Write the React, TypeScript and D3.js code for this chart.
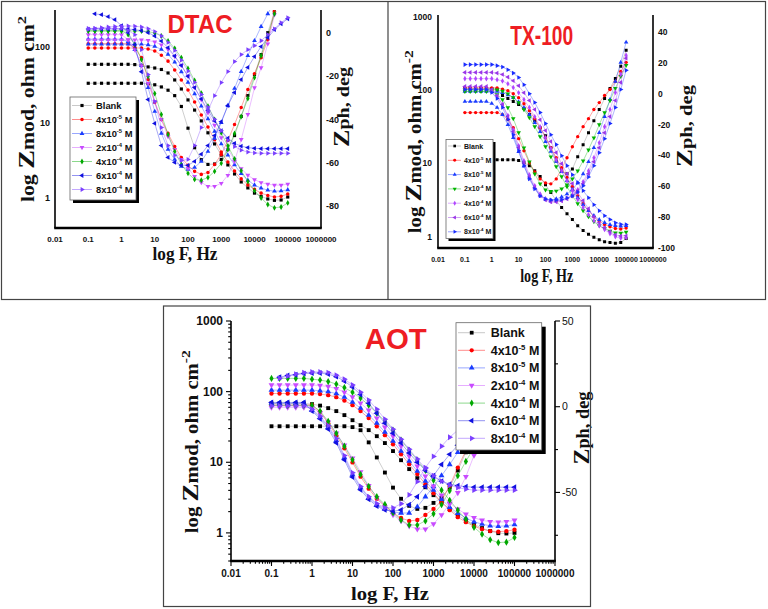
import React from 'react';
import * as d3 from 'd3';

// ---------------- data ----------------
const FREQ = [0.1, 0.158, 0.251, 0.398, 0.631, 1, 1.58, 2.51, 3.98, 6.31, 10, 15.8, 25.1, 39.8, 63.1, 100, 158, 251, 398, 631, 1000, 1580, 2510, 3980, 6310, 10000, 15800, 25100, 39800, 63100, 100000];

const X_TICKS = [0.01, 0.1, 1, 10, 100, 1000, 10000, 100000, 1000000];
const X_TICK_LABELS = ['0.01', '0.1', '1', '10', '100', '1000', '10000', '100000', '1000000'];

const LEGEND_BASE = ['Blank', '4x10', '8x10', '2x10', '4x10', '6x10', '8x10'];
const LEGEND_EXP = ['', '-5', '-5', '-4', '-4', '-4', '-4'];
const LEGEND_UNIT = ['', ' M', ' M', ' M', ' M', ' M', ' M'];

const TITLES = ['DTAC', 'TX-100', 'AOT'];
const X_LABEL = 'log F, Hz';

// DTAC: |Z| (ohm cm2) and phase (deg); rows = Blank, 4e-5, 8e-5, 2e-4, 4e-4, 6e-4, 8e-4
const dtacZmod = [
  [59, 59, 59, 59, 59, 59, 59, 58.5, 57, 54.5, 52.7, 50.4, 45.3, 36.6, 27.8, 19.9, 14.6, 10.5, 7.3, 5.2, 3.7, 2.74, 2.08, 1.63, 1.36, 1.16, 1.05, 0.97, 0.93, 0.94, 1.03],
  [97, 97, 97, 97, 97, 97, 97, 97, 97, 94, 88.5, 78, 65, 49.6, 36.6, 26.9, 18.7, 12.6, 8.7, 5.9, 4.07, 3.0, 2.28, 1.79, 1.49, 1.30, 1.16, 1.08, 1.03, 1.05, 1.13],
  [109, 109, 109, 109, 109, 109, 109, 109, 109, 107, 102, 93, 80, 63, 47, 34, 24, 16.5, 11.2, 7.6, 5.2, 3.7, 2.75, 2.1, 1.72, 1.48, 1.35, 1.27, 1.23, 1.24, 1.28],
  [124, 124, 124, 124, 124, 124, 124, 124, 124, 122, 117, 107, 93, 75, 57, 41, 29, 20, 13.5, 9.2, 6.3, 4.4, 3.2, 2.45, 2.0, 1.75, 1.6, 1.52, 1.48, 1.48, 1.52],
  [163, 163, 163, 163, 163, 163, 163, 163, 163, 160, 153, 140, 120, 96, 72, 52, 36, 24.5, 16.5, 11, 7.3, 4.9, 3.3, 2.3, 1.65, 1.25, 1.0, 0.82, 0.74, 0.76, 0.86],
  [173, 173, 173, 173, 173, 173, 173, 170, 165, 155, 140, 120, 98, 76, 57, 41, 29, 20.5, 14.5, 10.5, 7.8, 6.2, 5.3, 4.85, 4.65, 4.55, 4.5, 4.5, 4.5, 4.5, 4.5],
  [172, 176, 180, 184, 187, 189, 190, 189, 184, 175, 160, 140, 115, 90, 67, 48, 34, 23.5, 16, 11, 7.8, 5.8, 4.8, 4.3, 4.05, 3.95, 3.9, 3.9, 3.9, 3.9, 3.9],
];
const dtacPhase = [
  [-23.3, -23.3, -23.3, -23.3, -23.3, -23.3, -23.3, -23.3, -23.3, -23.5, -24, -25, -26.5, -29, -34, -44, -53, -58.5, -60.7, -60.5, -58.4, -53.8, -47.4, -38.6, -29, -19.3, -10.1, 0, 9.7, 20, 30],
  [-5.1, -5.1, -5.1, -5.1, -5.1, -5.1, -5.1, -6.9, -11.5, -21.6, -32.2, -40, -46.4, -52.4, -57.5, -61.1, -63.9, -65.3, -64.4, -60.7, -56.1, -49.7, -42.3, -34.5, -26.2, -18.9, -11.5, -3.2, 9.7, 22, 33.6],
  [-3, -3, -3, -3, -3, -3, -4.1, -7.8, -15.2, -25.3, -36.3, -46.4, -53.8, -58.4, -61.6, -63, -62.1, -59.3, -54.7, -48.7, -41.4, -33.6, -25.7, -17.9, -10.6, -3.7, 2.8, 8.7, 14.3, 19.8, 24.4],
  [-0.9, -0.9, -0.9, -0.9, -0.9, -0.9, -3.2, -7.8, -15.2, -23.4, -31.7, -40, -47.8, -53.8, -58.4, -62.5, -66.2, -69, -70.8, -70.8, -69.4, -65.7, -59.3, -49.2, -37.7, -25.3, -16.1, -5.1, 8.3, 19.8, 31.3],
  [0.9, 0.9, 0.9, 0.9, 0.9, 0.9, -0.9, -5.5, -12.4, -20.2, -28, -37.7, -46.9, -54.7, -60.7, -64.8, -67.6, -68, -66.7, -63.9, -60.2, -53.8, -46.4, -38.6, -30.3, -20.7, -10.6, -1.4, 8.7, 18.9, 29],
  [null, 8.7, 8.3, 7.4, 6, 3.2, 0, -5.5, -18, -30.8, -41.8, -52, -57.5, -59.8, -61.1, -61.1, -59.3, -56, -52, -47.4, -41, -33.6, -27.6, -21.6, -16, -11, -6.4, -2.3, 1.4, 4.1, 6.4],
  [2, 2, 2, 2, 2, 2, 1, -0.9, -7.8, -19.3, -31.7, -43.7, -52, -56.5, -58.9, -58.4, -52, -43.7, -35.9, -29, -23, -17.9, -13.3, -10.1, -7.8, -6, -3.7, -0.9, 1.8, 4.6, 6.9],
];

// TX-100
const txZmod = [
  [11.2, 11.2, 11.2, 11.2, 11.2, 11.2, 11.2, 11.2, 11.2, 11.2, 10.9, 10.2, 9.3, 7.9, 6.6, 5.1, 4.0, 3.1, 2.49, 2.06, 1.71, 1.41, 1.21, 1.08, 0.98, 0.91, 0.855, 0.83, 0.815, 0.83, 0.94],
  [107, 107, 107, 107, 107, 107, 107, 103, 98, 89, 78.6, 65, 52.3, 40.7, 30.6, 22.3, 16.4, 11.9, 8.7, 6.4, 4.8, 3.6, 2.82, 2.26, 1.87, 1.63, 1.46, 1.36, 1.29, 1.27, 1.31],
  [96, 96, 96, 96, 96, 96, 96, 92, 86, 78.6, 69, 57.6, 46, 35.9, 27, 19.8, 14.5, 10.6, 7.7, 5.8, 4.4, 3.4, 2.73, 2.26, 1.93, 1.71, 1.55, 1.46, 1.41, 1.39, 1.41],
  [101, 101, 101, 101, 101, 101, 101, 96.5, 89, 78.6, 67.4, 54.1, 42, 31.6, 23.1, 16.9, 12.3, 9.0, 6.6, 4.8, 3.6, 2.82, 2.26, 1.87, 1.6, 1.41, 1.29, 1.19, 1.13, 1.12, 1.15],
  [143, 143, 143, 143, 143, 143, 138, 133, 122, 108, 92, 74, 57.6, 43.3, 31.6, 22.3, 15.9, 11.2, 7.96, 5.8, 4.24, 3.2, 2.49, 1.99, 1.65, 1.41, 1.25, 1.1, 1.0, 0.955, 0.97],
  [174, 174, 174, 174, 174, 174, 170, 163, 150, 134, 114, 92, 72, 54.1, 39.4, 28.0, 19.8, 14.0, 9.9, 7.2, 5.3, 4.0, 3.1, 2.41, 1.87, 1.55, 1.33, 1.17, 1.06, 1.02, 1.03],
  [222, 222, 222, 222, 222, 222, 215, 206, 189, 170, 148, 118, 89, 67.4, 49.3, 34.8, 24.6, 18.0, 12.7, 9.3, 7.0, 5.45, 4.24, 3.4, 2.73, 2.26, 1.93, 1.71, 1.55, 1.48, 1.46],
];
const txPhase = [
  [3.5, 3.5, 3.5, 3.5, 3.5, 3.5, 2.8, -1.1, -3.1, -5, -7, -9.6, -13.5, -17.4, -22, -27.2, -35, -43.5, -50, -51.9, -48.7, -40.8, -33, -25.2, -17.4, -10.2, -3.1, 3.5, 10, 17.8, 28.2],
  [-12.2, -12.2, -12.2, -12.2, -12.2, -12.2, -12.2, -13.5, -16.7, -22, -29.1, -36.9, -44.8, -50.6, -55.2, -57.8, -58.4, -55.2, -48.7, -41.5, -34.3, -27.8, -21.3, -16.1, -10.2, -5.7, -1.1, 2.8, 8, 14.5, 20.4],
  [-5, -5, -5, -5, -5, -6.3, -8.9, -13.5, -20, -28.5, -37.6, -46.7, -54.5, -61, -65.6, -68.2, -68.9, -68.2, -66.9, -65, -62.3, -57.8, -51.9, -44.1, -35, -25.2, -14.8, -3.7, 8, 20.4, 33.4],
  [1.5, 1.5, 1.5, 1.5, 1.5, 1.5, -0.5, -3.7, -8.9, -16.1, -25.2, -35, -44.1, -51.9, -58.4, -62.3, -63.3, -63, -61.7, -59.1, -55.2, -50, -43.5, -36.3, -28.5, -20, -12.2, -4.4, 3.5, 11.3, 18.4],
  [3.1, 3.1, 3.1, 3.1, 3.1, 1.5, -1.8, -7, -14.1, -23.3, -33.7, -43.5, -52.6, -59.7, -65, -68.2, -69.5, -69.5, -68.9, -67.6, -65.6, -62.3, -57.1, -50, -41.5, -31.7, -21.3, -10.2, 0.8, 12.6, 25],
  [4.8, 4.8, 4.8, 4.8, 4.8, 2.8, -1.1, -7, -14.8, -24.6, -35, -44.8, -53.9, -61, -66.3, -68.9, -70.2, -70.2, -69.5, -68.2, -66.3, -63, -58.4, -51.9, -44.1, -35, -25.2, -14.8, -4.4, 7.4, 23],
  [2.8, 2.8, 2.8, 2.8, 2.8, 0.8, -3.1, -8.9, -16.7, -26.5, -36.9, -46.7, -55.2, -61.7, -66.3, -68.2, -68.9, -68.9, -68.6, -67.6, -66.3, -63.7, -59.7, -53.9, -46.7, -38.2, -29.1, -19.3, -8.9, 2.8, 15.2],
];

// AOT
const aotZmod = [
  [68, 68, 68, 68, 68, 66.5, 63.4, 58.4, 53, 46.5, 39.4, 33.5, 28.5, 23.4, 18.7, 14.4, 10.7, 8.0, 5.96, 4.43, 3.42, 2.72, 2.17, 1.78, 1.51, 1.31, 1.17, 1.06, 0.99, 0.98, 1.0],
  [94, 94, 94, 94, 94, 94, 92.2, 89.2, 83.6, 74.6, 64.4, 53, 42.2, 32.4, 24.2, 18.0, 13.0, 9.4, 6.8, 4.9, 3.65, 2.72, 2.1, 1.67, 1.42, 1.24, 1.13, 1.06, 1.04, 1.06, 1.11],
  [105, 105, 105, 105, 105, 105, 103, 100, 93.7, 83.6, 71, 58.4, 46.5, 35.8, 26.7, 19.9, 14.4, 10.4, 7.5, 5.4, 4.03, 3.0, 2.31, 1.9, 1.62, 1.44, 1.33, 1.26, 1.24, 1.26, 1.31],
  [124, 124, 124, 124, 124, 124, 122, 118, 110, 98, 84, 68.7, 54.7, 42.2, 31.4, 23.4, 16.9, 12.2, 8.8, 6.36, 4.59, 3.42, 2.64, 2.17, 1.84, 1.64, 1.51, 1.44, 1.42, 1.44, 1.51],
  [154, 154, 154, 154, 154, 150, 146, 139, 128, 114, 98, 81, 64.4, 49.6, 38.2, 28.5, 20.6, 14.8, 10.7, 7.7, 5.58, 4.03, 2.9, 2.1, 1.56, 1.2, 0.96, 0.8, 0.73, 0.74, 0.86],
  [null, 160, 169, 174, 180, 183, 183, 177, 163, 141, 116, 90.8, 68.7, 49.6, 35.8, 25.8, 18.7, 13.5, 10.0, 7.7, 6.25, 5.4, 4.9, 4.66, 4.51, 4.44, 4.44, 4.44, 4.44, 4.44, 4.44],
  [null, 155, 166, 177, 186, 190, 190, 186, 171, 150, 124, 98.4, 75.9, 56.5, 40.7, 29.4, 21.2, 15.3, 11.1, 8.2, 6.46, 5.4, 4.74, 4.37, 4.16, 4.03, 4.03, 4.03, 4.03, 4.03, 4.03],
];
const aotPhase = [
  [-11.4, -11.4, -11.4, -11.4, -11.4, -11.4, -11.4, -11.4, -11.4, -11.4, -11.9, -13.7, -20.8, -29.6, -38.4, -47.2, -53.7, -57.8, -59.6, -59, -56.1, -53.1, -47.2, -37.2, -26.6, -16.6, -4.9, 6.9, 18.6, 30.4, 42.2],
  [1, 1, 1, 1, 1, 1, -3.1, -9.6, -16.6, -24.3, -32.5, -40.8, -47.8, -53.7, -57.8, -61.9, -64.9, -66.6, -66.1, -63.1, -59.6, -54.9, -46.1, -35.5, -25.5, -16.1, -6.6, 2.8, 12.2, 21.6, 31],
  [2, 2, 2, 2, 2, -1.9, -6.1, -11.9, -19.6, -29.6, -39.6, -47.2, -53.1, -57.2, -59.6, -61.4, -62, -62, -58.4, -52.5, -46.6, -40.2, -33.7, -26.6, -19.6, -12.5, -5.5, 1.6, 8.6, 15.7, 22.8],
  [-0.4, -0.4, -0.4, -0.4, -0.4, -0.4, -3.5, -9, -15.5, -22.5, -30, -38, -46.1, -53.1, -58.4, -63.1, -66.6, -69.6, -71.4, -71.4, -68.4, -63.1, -56.6, -50.2, -40.8, -28.4, -16.1, -3.1, 8.6, 20.4, 32.2],
  [0.8, 0.8, 0.8, 0.8, 0.8, 0.8, -2.5, -8.5, -15.5, -23, -31, -39.5, -46.5, -52.5, -57, -61.9, -66.1, -69, -69, -66.6, -62.5, -57.2, -49, -40.2, -31.9, -23.7, -14.3, -4.9, 4.5, 13.9, 23.4],
  [2.5, 2.5, 2.5, 2.5, 2.5, -2.5, -7, -13, -21, -31, -41, -48.5, -54, -58, -60.2, -61, -60.2, -57.2, -52.5, -46.6, -40.2, -33.7, -27.8, -22.5, -17.8, -13.7, -9.6, -5.5, -1.4, 3.4, 8.1],
  [0.5, 0.5, 0.5, 0.5, 0.5, -1.5, -5.5, -11, -18.5, -28.5, -38.5, -46.5, -52.5, -56.5, -59, -59, -56.6, -51.4, -43.7, -35.5, -29, -23.1, -17.8, -13.7, -10.2, -7.2, -4.3, -1.4, 1.6, 5.1, 8.6],
];

const DTAC_COLORS = ['#000000', '#ff0000', '#1a3cff', '#c84bff', '#00a800', '#1010e0', '#7b3fff'];
const TX_COLORS = ['#000000', '#ff0000', '#1a3cff', '#00b400', '#b146ff', '#9a36e8', '#1a2cff'];
const AOT_COLORS = ['#000000', '#ff0000', '#1a3cff', '#c84bff', '#00a800', '#1010e0', '#7b3fff'];

// ---------------- styling / layout ----------------
const SANS = "'Liberation Sans', Arial, Helvetica, sans-serif";
const SERIF = "'Liberation Serif', 'Times New Roman', serif";
const SYM_TYPES = [d3.symbolSquare, d3.symbolCircle, d3.symbolTriangle, d3.symbolTriangle, d3.symbolDiamond, d3.symbolTriangle, d3.symbolTriangle];
const SYM_ROT = [0, 0, 0, 180, 0, -90, 90];
const markerPath = (i: number, size: number) => d3.symbol().type(SYM_TYPES[i]).size(size)() || '';

const PANELS = [
  {
    key: 'dtac', title: TITLES[0], x0: 55, x1: 321, yTop: 11, yBot: 228, axisTop: 10,
    zDomain: [0.4, 300], pDomain: [-90, 10], zTicks: [1, 10, 100], pTicks: [0, -20, -40, -60, -80],
    colors: DTAC_COLORS, zmod: dtacZmod, phase: dtacPhase, ms: 10, ticks: false, pMinor: [] as number[],
    xTick: { y: 242, fs: 8 }, lTick: { x: 50, fs: 9 }, rTick: { x: 326, fs: 9, w: 'bold' },
    titleCfg: { x: 200, y: 33, fs: 25, len: 65 },
    xlab: { x: 185, y: 260, fs: 18.5, len: 65 },
    ylab: { x: 34, y: 109, fs: 18, len: 186, sup: '2' },
    rlab: { x: 349, y: 107, fs: 17, len: 80 },
    legend: { x: 70, y: 97, w: 66, h: 103, sh: 3, r0: 105.5, step: 14, lx0: 72, lx1: 92, mx: 82, tx: 96, fs: 9.4, ms: 10 },
  },
  {
    key: 'tx', title: TITLES[1], x0: 438, x1: 653, yTop: 16.7, yBot: 248, axisTop: 15,
    zDomain: [0.7, 1000], pDomain: [-100, 50], zTicks: [1, 10, 100, 1000], pTicks: [40, 20, 0, -20, -40, -60, -80, -100],
    colors: TX_COLORS, zmod: txZmod, phase: txPhase, ms: 9, ticks: false, pMinor: [] as number[],
    xTick: { y: 262, fs: 7 }, lTick: { x: 432, fs: 8.5 }, rTick: { x: 658, fs: 8.5, w: 'bold' },
    titleCfg: { x: 541.7, y: 45, fs: 28, len: 63 },
    xlab: { x: 546.7, y: 281.7, fs: 18, len: 53 },
    ylab: { x: 421, y: 141.7, fs: 18, len: 183, sup: '-2' },
    rlab: { x: 692, y: 126, fs: 17, len: 82 },
    legend: { x: 446, y: 139.5, w: 47, h: 99, sh: 2.5, r0: 146, step: 14.3, lx0: 448, lx1: 461, mx: 454.7, tx: 464, fs: 7, ms: 7 },
  },
  {
    key: 'aot', title: TITLES[2], x0: 231, x1: 555, yTop: 321, yBot: 561, axisTop: 321,
    zDomain: [0.4, 1000], pDomain: [-90, 50], zTicks: [1, 10, 100, 1000], pTicks: [50, 0, -50],
    colors: AOT_COLORS, zmod: aotZmod, phase: aotPhase, ms: 15, ticks: true, pMinor: [25, -25, -75],
    xTick: { y: 577, fs: 10 }, lTick: { x: 223, fs: 12 }, rTick: { x: 562, fs: 10.5, w: 'normal' },
    titleCfg: { x: 395.7, y: 349, fs: 29, len: 62 },
    xlab: { x: 390, y: 600, fs: 19, len: 78 },
    ylab: { x: 198, y: 441.7, fs: 18, len: 183, sup: '-2' },
    rlab: { x: 589, y: 428, fs: 18, len: 73 },
    legend: { x: 456, y: 322.7, w: 85.7, h: 127.3, sh: 4, r0: 332.7, step: 17.6, lx0: 458, lx1: 485, mx: 471.7, tx: 490.7, fs: 12.5, ms: 14 },
  },
];

function Legend({ L, colors }: any) {
  return (
    <g>
      <rect x={L.x + L.sh} y={L.y + L.sh} width={L.w} height={L.h} fill="#000" />
      <rect x={L.x} y={L.y} width={L.w} height={L.h} fill="#fff" stroke="#666" strokeWidth={0.8} />
      {LEGEND_BASE.map((b, i) => {
        const y = L.r0 + i * L.step;
        return (
          <g key={i}>
            <line x1={L.lx0} x2={L.lx1} y1={y} y2={y} stroke={i === 0 ? '#888' : colors[i]} strokeOpacity={0.45} strokeWidth={1} />
            <path d={markerPath(i, L.ms)} transform={`translate(${L.mx},${y}) rotate(${SYM_ROT[i]})`} fill={colors[i]} />
            <text x={L.tx} y={y + L.fs * 0.36} fontSize={L.fs} fontWeight="bold" fill="#111" fontFamily={SANS}>
              {b}
              {LEGEND_EXP[i] ? <tspan dy={-L.fs * 0.42} fontSize={L.fs * 0.62}>{LEGEND_EXP[i]}</tspan> : null}
              {LEGEND_UNIT[i] ? <tspan dy={LEGEND_EXP[i] ? L.fs * 0.42 : 0}>{LEGEND_UNIT[i]}</tspan> : null}
            </text>
          </g>
        );
      })}
    </g>
  );
}

function Panel({ c }: any) {
  const x = d3.scaleLog().domain([0.01, 1e6]).range([c.x0, c.x1]);
  const yz = d3.scaleLog().domain(c.zDomain).range([c.yBot, c.yTop]);
  const yp = d3.scaleLinear().domain(c.pDomain).range([c.yBot, c.yTop]);
  const clipId = 'clip-' + c.key;
  const lineFor = (sc: any) =>
    d3.line<any>().defined((v: any) => v != null).x((_v: any, i: number) => x(FREQ[i])).y((v: any) => sc(v));
  const lz = lineFor(yz);
  const lp = lineFor(yp);

  const drawSeries = (vals: any[], sc: any, ln: any, s: number, tag: string) => (
    <g key={tag + s}>
      <path d={ln(vals) || ''} fill="none" stroke={s === 0 ? '#777' : c.colors[s]} strokeOpacity={0.4} strokeWidth={0.9} />
      {vals.map((v: any, i: number) =>
        v == null ? null : (
          <path key={i} d={markerPath(s, c.ms)} transform={`translate(${x(FREQ[i]).toFixed(2)},${sc(v).toFixed(2)}) rotate(${SYM_ROT[s]})`} fill={c.colors[s]} />
        )
      )}
    </g>
  );

  const isMajor = (t: number) => Math.abs(Math.log10(t) - Math.round(Math.log10(t))) < 1e-6;

  return (
    <g>
      <defs>
        <clipPath id={clipId}>
          <rect x={c.x0} y={c.yTop - 1} width={c.x1 - c.x0} height={c.yBot - c.yTop + 1} />
        </clipPath>
      </defs>
      <g clipPath={`url(#${clipId})`}>
        {c.zmod.map((_z: any, s: number) => (
          <g key={s}>
            {drawSeries(c.zmod[s], yz, lz, s, 'z')}
            {drawSeries(c.phase[s], yp, lp, s, 'p')}
          </g>
        ))}
      </g>

      {/* axis frame */}
      <line x1={c.x0} x2={c.x0} y1={c.axisTop} y2={c.yBot} stroke="#000" strokeWidth={1.6} />
      <line x1={c.x1} x2={c.x1} y1={c.axisTop} y2={c.yBot} stroke="#000" strokeWidth={1.6} />
      <line x1={c.x0 - 0.8} x2={c.x1 + 0.8} y1={c.yBot} y2={c.yBot} stroke="#000" strokeWidth={2.6} />

      {c.ticks ? (
        <g stroke="#000" strokeWidth={1.1}>
          {x.ticks().map((t: number, i: number) => (
            <line key={'xt' + i} x1={x(t)} x2={x(t)} y1={c.yBot} y2={c.yBot + (isMajor(t) ? 5 : 2.8)} />
          ))}
          {yz.ticks().map((t: number, i: number) => (
            <line key={'yt' + i} x1={c.x0} x2={c.x0 - (isMajor(t) ? 5 : 2.8)} y1={yz(t)} y2={yz(t)} />
          ))}
          {c.pTicks.map((t: number, i: number) => (
            <line key={'pt' + i} x1={c.x1} x2={c.x1 + 5} y1={yp(t)} y2={yp(t)} />
          ))}
          {c.pMinor.map((t: number, i: number) => (
            <line key={'pm' + i} x1={c.x1} x2={c.x1 + 3} y1={yp(t)} y2={yp(t)} />
          ))}
        </g>
      ) : null}

      {/* tick labels */}
      <g fontFamily={SANS} fontWeight="bold" fill="#111">
        {X_TICKS.map((t, i) => (
          <text key={'xl' + i} x={x(t)} y={c.xTick.y} fontSize={c.xTick.fs} textAnchor="middle">{X_TICK_LABELS[i]}</text>
        ))}
        {c.zTicks.map((t: number, i: number) => (
          <text key={'zl' + i} x={c.lTick.x} y={yz(t) + c.lTick.fs * 0.35} fontSize={c.lTick.fs} textAnchor="end">{String(t)}</text>
        ))}
        {c.pTicks.map((t: number, i: number) => (
          <text key={'pl' + i} x={c.rTick.x} y={yp(t) + c.rTick.fs * 0.35} fontSize={c.rTick.fs} fontWeight={c.rTick.w} textAnchor="start">{String(t)}</text>
        ))}
      </g>

      {/* title */}
      <text x={c.titleCfg.x} y={c.titleCfg.y} textAnchor="middle" fill="#ee1d23" fontFamily={SANS} fontWeight="bold"
        fontSize={c.titleCfg.fs} textLength={c.titleCfg.len} lengthAdjust="spacingAndGlyphs">{c.title}</text>

      {/* axis titles */}
      <text x={c.xlab.x} y={c.xlab.y} textAnchor="middle" fontFamily={SERIF} fontWeight="bold" fontSize={c.xlab.fs}
        textLength={c.xlab.len} lengthAdjust="spacingAndGlyphs" fill="#111">{X_LABEL}</text>
      <text transform={`translate(${c.ylab.x},${c.ylab.y}) rotate(-90)`} textAnchor="middle" fontFamily={SERIF} fontWeight="bold"
        fontSize={c.ylab.fs} textLength={c.ylab.len} lengthAdjust="spacingAndGlyphs" fill="#111">
        {'log '}<tspan fontSize={c.ylab.fs * 1.3}>Z</tspan>{'mod, ohm cm'}<tspan dy={-c.ylab.fs * 0.45} fontSize={c.ylab.fs * 0.75}>{c.ylab.sup}</tspan>
      </text>
      <text transform={`translate(${c.rlab.x},${c.rlab.y}) rotate(-90)`} textAnchor="middle" fontFamily={SERIF} fontWeight="bold"
        fontSize={c.rlab.fs} textLength={c.rlab.len} lengthAdjust="spacingAndGlyphs" fill="#111">
        <tspan fontSize={c.rlab.fs * 1.3}>Z</tspan>{'ph, deg'}
      </text>

      <Legend L={c.legend} colors={c.colors} />
    </g>
  );
}

export default function App() {
  return (
    <svg width={768} height={609} viewBox="0 0 768 609" style={{ position: 'absolute', left: 0, top: 0, background: '#fff' }}>
      <rect x={0} y={0} width={768} height={609} fill="#fff" />
      <rect x={1.5} y={1.5} width={764} height={298} fill="none" stroke="#444" strokeWidth={1.2} />
      <line x1={388} x2={388} y1={1.5} y2={299.5} stroke="#444" strokeWidth={1.2} />
      {PANELS.map((c) => <Panel key={c.key} c={c} />)}
      <rect x={163.5} y={306} width={427} height={300.5} fill="none" stroke="#444" strokeWidth={1.2} />
    </svg>
  );
}
